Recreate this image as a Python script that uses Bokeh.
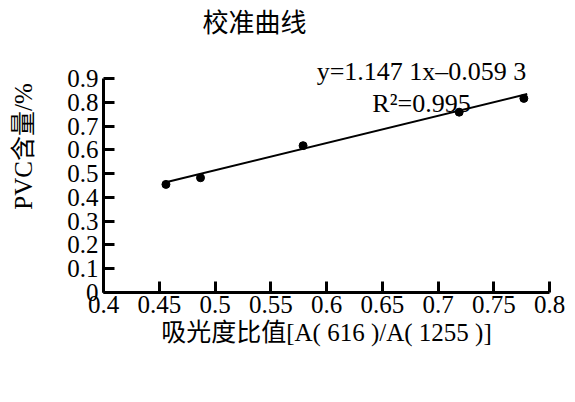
from bokeh.embed import file_html
from bokeh.models import CustomJSTickFormatter, FixedTicker, Label, Range1d
from bokeh.plotting import figure
from bokeh.resources import INLINE

# calibration points
absorb_ratio = [0.456, 0.487, 0.579, 0.719, 0.777]
pvc_content = [0.455, 0.483, 0.618, 0.759, 0.817]

# fitted line y = 1.1471x - 0.0593
fit_slope = 1.1471
fit_intercept = -0.0593
fit_x = [0.456, 0.780]
fit_y = [fit_slope * x + fit_intercept for x in fit_x]

x_ticks = [0.4, 0.45, 0.5, 0.55, 0.6, 0.65, 0.7, 0.75, 0.8]
y_ticks = [0, 0.1, 0.2, 0.3, 0.4, 0.5, 0.6, 0.7, 0.8, 0.9]

title_text = "校准曲线"
eq_text = "y=1.147 1x–0.059 3"
r2_text = "R²=0.995"
x_label = "吸光度比值[A( 616 )/A( 1255 )]"
y_label = "PVC含量/%"

FONT = "Liberation Serif, Times New Roman, Noto Sans CJK SC"

# y range reaches above 0.9 so the title and equation sit inside the frame;
# the axis itself stops at 0.9 through its bounds
p = figure(width=567, height=394, output_backend="svg", toolbar_location=None,
           tools="", x_range=Range1d(0.4, 0.8), y_range=Range1d(0, 1.229),
           min_border_left=103, min_border_right=18, min_border_top=0,
           min_border_bottom=102)
p.outline_line_color = None
p.grid.grid_line_color = None
p.background_fill_color = "white"
p.border_fill_color = "white"

p.xaxis.ticker = FixedTicker(ticks=x_ticks)
p.yaxis.ticker = FixedTicker(ticks=y_ticks)
p.yaxis.bounds = (0, 0.9)
for ax in (p.xaxis, p.yaxis):
    ax.formatter = CustomJSTickFormatter(code="return String(tick)")
    ax.axis_line_width = 3
    ax.axis_line_color = "black"
    ax.major_tick_line_width = 3
    ax.major_tick_line_color = "black"
    ax.major_tick_in = 11
    ax.major_tick_out = 0
    ax.minor_tick_line_color = None
    ax.major_label_text_font = FONT
    ax.major_label_text_font_size = "25px"
    ax.major_label_text_color = "black"
    ax.axis_label_text_font = FONT
    ax.axis_label_text_font_size = "25px"
    ax.axis_label_text_font_style = "normal"
    ax.axis_label_text_color = "black"

p.xaxis.axis_label = x_label
p.yaxis.axis_label = y_label
p.xaxis.major_label_standoff = 3
p.yaxis.major_label_standoff = 5
p.xaxis.axis_label_standoff = 3
p.yaxis.axis_label_standoff = 27

p.line(fit_x, fit_y, line_color="black", line_width=2)
p.scatter(absorb_ratio, pvc_content, size=8, color="black")

p.add_layout(Label(x=0.5354, y=1.131, text=title_text, text_align="center",
                   text_baseline="middle", text_font=FONT, text_font_size="26px",
                   text_color="black"))
p.add_layout(Label(x=0.6852, y=0.932, text=eq_text, text_align="center",
                   text_baseline="alphabetic", text_font=FONT,
                   text_font_size="26px", text_color="black"))
p.add_layout(Label(x=0.6852, y=0.795, text=r2_text, text_align="center",
                   text_baseline="alphabetic", text_font=FONT,
                   text_font_size="26px", text_color="black"))

open("out.html", "w").write(file_html(p, INLINE))
